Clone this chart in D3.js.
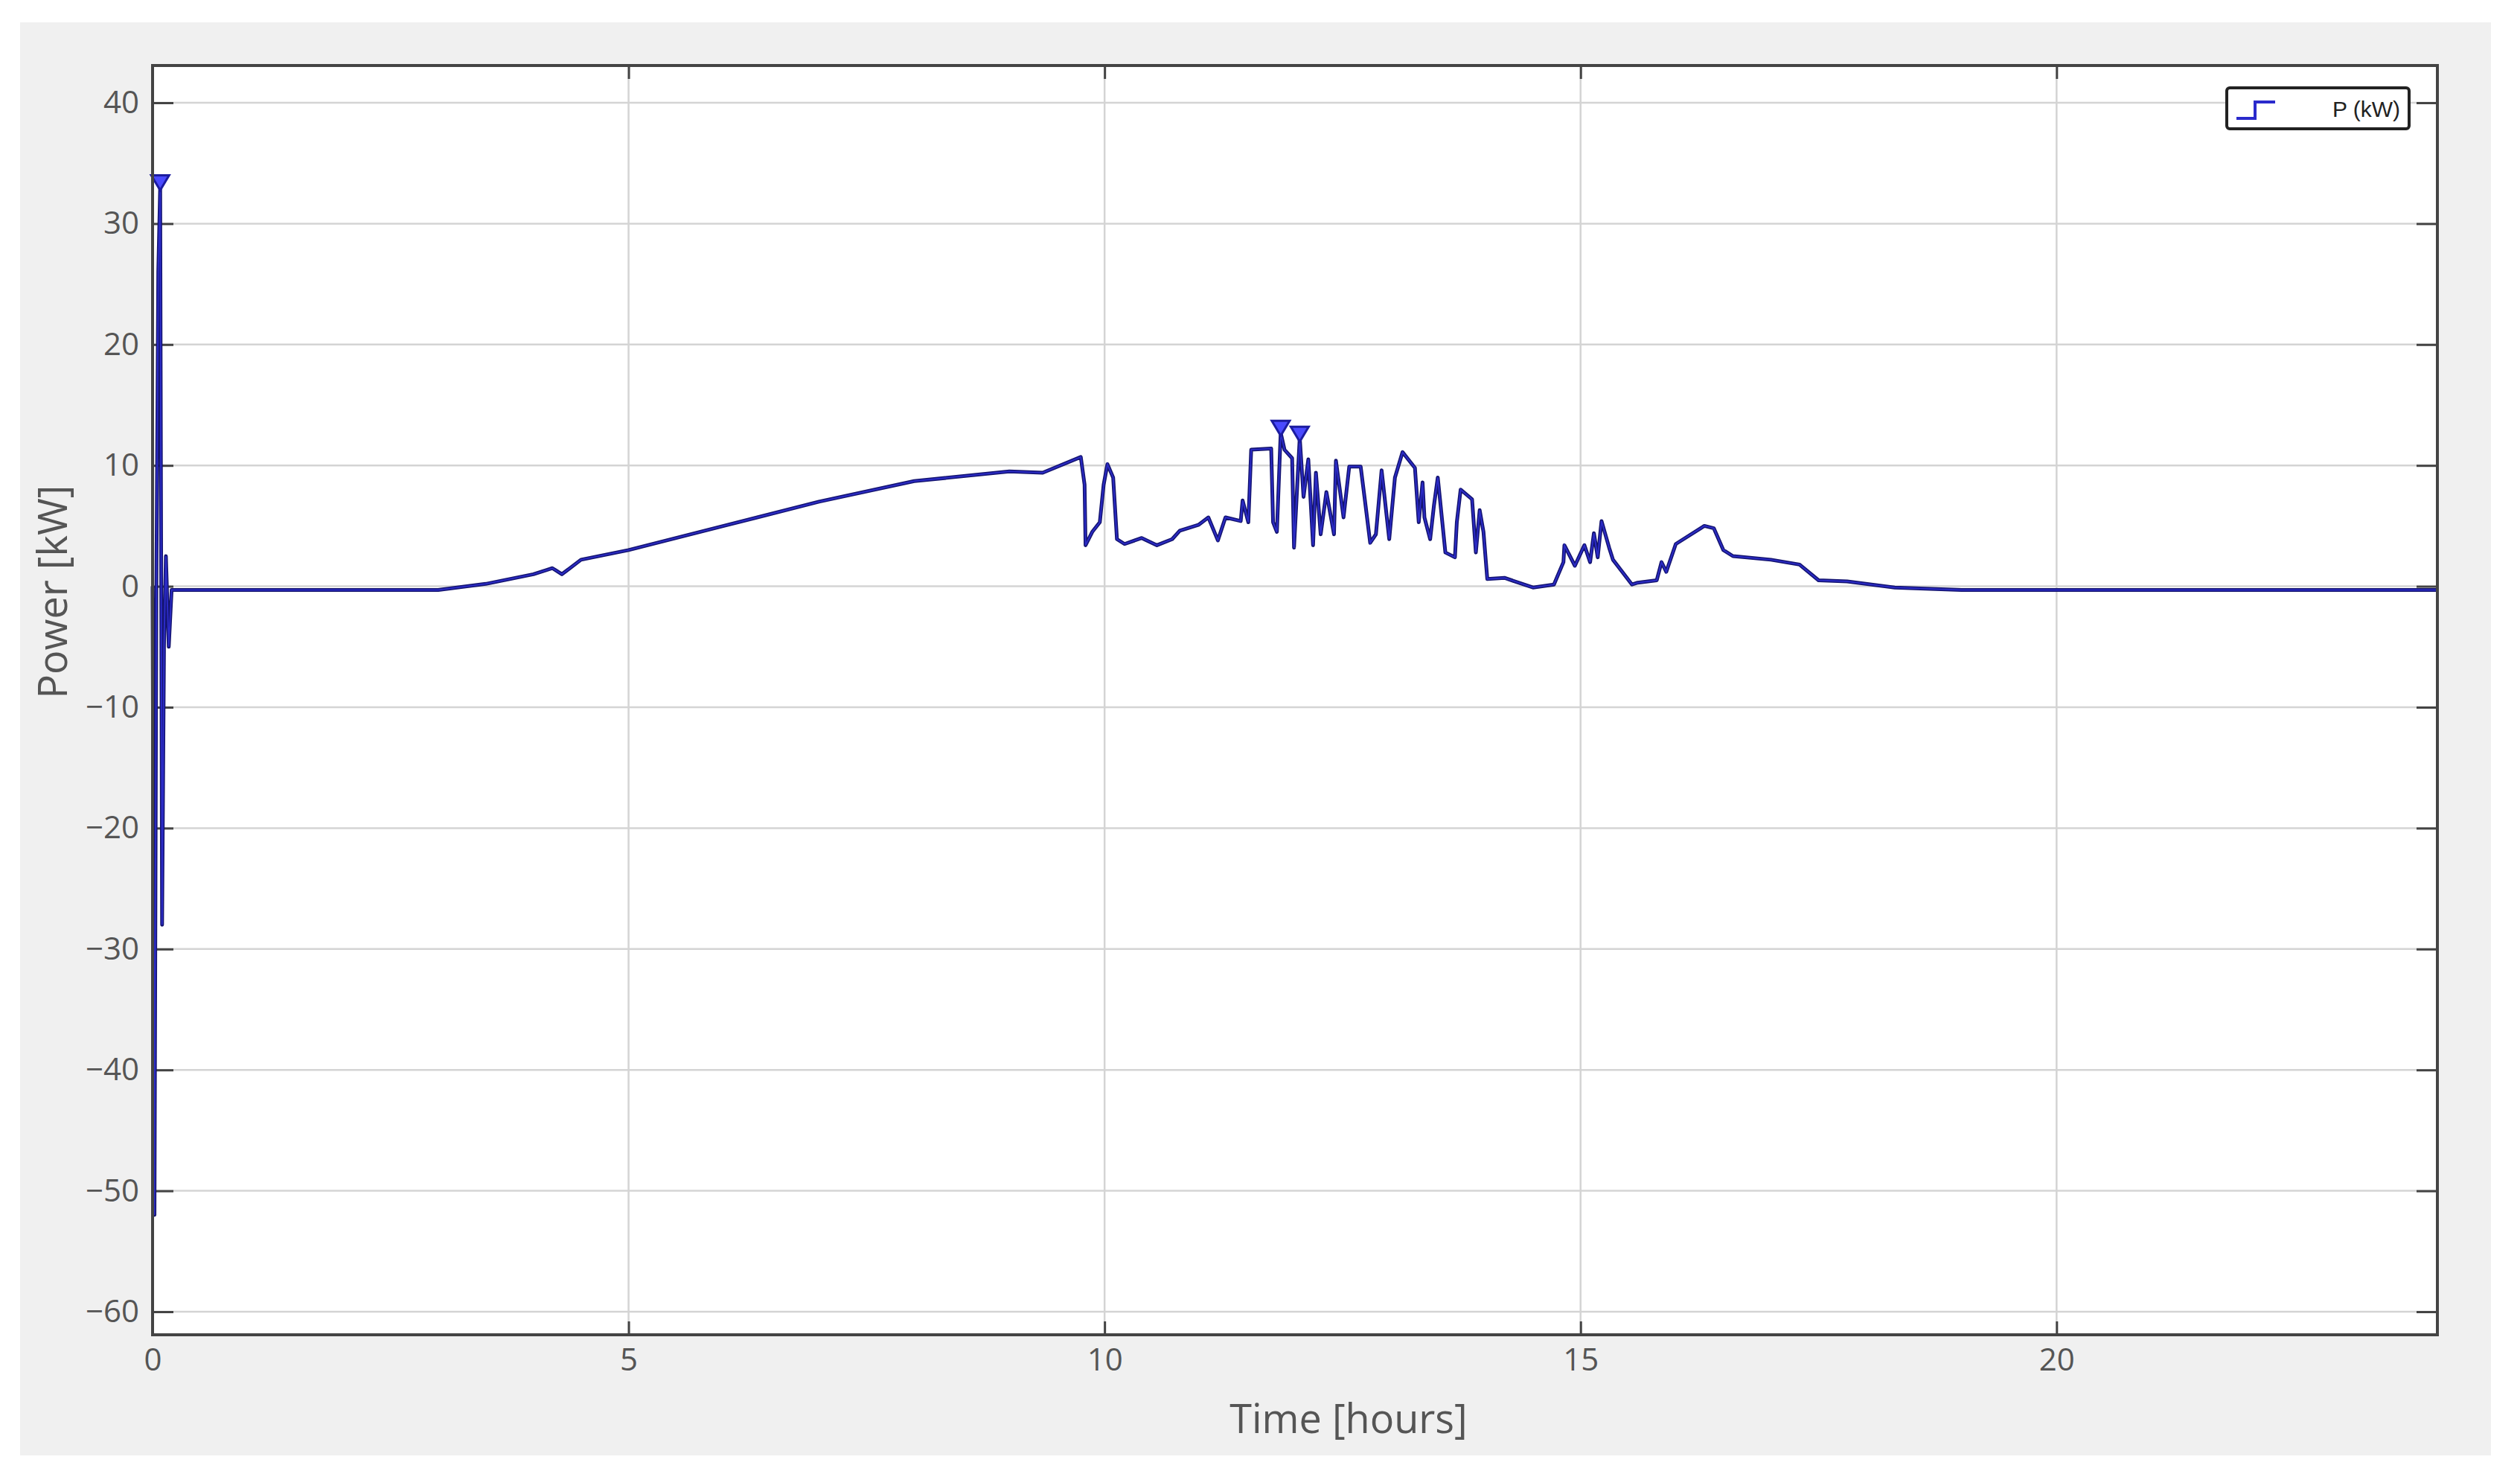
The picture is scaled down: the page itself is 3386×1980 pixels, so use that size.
<!DOCTYPE html><html><head><meta charset="utf-8"><script src="https://cdn.jsdelivr.net/npm/d3@7"></script>
<style>body{margin:0;background:#fff}</style></head><body><svg id="c" width="3386" height="1980"></svg><script>
const xTicks=[0,5,10,15,20];
const yTicks=[40,30,20,10,0,-10,-20,-30,-40,-50,-60];
const timeH=[0,0.02,0.04,0.06,0.08,0.1,0.12,0.14,0.17,0.2,1,2,3,3.5,4,4.2,4.3,4.5,5,6,7,8,9,9.35,9.75,9.79,9.8,9.87,9.95,9.99,10.03,10.09,10.13,10.21,10.39,10.55,10.71,10.79,10.99,11.09,11.19,11.27,11.43,11.45,11.51,11.54,11.75,11.77,11.81,11.85,11.89,11.97,11.99,12.05,12.09,12.14,12.19,12.22,12.27,12.33,12.41,12.43,12.51,12.57,12.69,12.73,12.79,12.85,12.91,12.99,13.05,13.13,13.26,13.30,13.34,13.36,13.42,13.46,13.50,13.58,13.68,13.70,13.74,13.86,13.90,13.94,13.98,14.02,14.20,14.50,14.72,14.82,14.83,14.94,15.04,15.10,15.14,15.18,15.22,15.30,15.34,15.54,15.6,15.8,15.85,15.9,16.0,16.3,16.4,16.5,16.6,17,17.3,17.5,17.8,18.3,19,24];
const powerKW=[0,-52,0,26,33,-28,-5,2.5,-5,-0.3,-0.3,-0.3,-0.3,0.2,1.0,1.5,1.0,2.2,3,5,7,8.7,9.5,9.4,10.7,8.4,3.4,4.5,5.3,8.4,10.1,9,3.9,3.5,4.0,3.4,3.9,4.6,5.1,5.7,3.8,5.7,5.4,7.1,5.3,11.3,11.4,5.3,4.5,12.7,11.3,10.6,3.2,12.3,7.4,10.5,3.4,9.4,4.3,7.8,4.3,10.4,5.7,9.9,9.9,7.4,3.6,4.3,9.6,3.9,9.0,11.1,9.8,5.3,8.6,5.7,3.9,6.7,9.0,2.8,2.4,5.3,8.0,7.2,2.8,6.3,4.5,0.6,0.7,-0.1,0.15,2.0,3.4,1.7,3.4,2,4.4,2.4,5.4,3.2,2.2,0.15,0.3,0.5,2,1.2,3.5,5,4.8,3,2.5,2.2,1.8,0.5,0.4,-0.1,-0.3,-0.3];
const markT=[0.08,11.85,12.05], markP=[33.5,13.2,12.7];

const svg=d3.select("#c");
svg.append("rect").attr("x",27).attr("y",30).attr("width",3320).attr("height",1925).attr("fill","#f0f0f0");
const L=205,R=3275,T=88,B=1793;
const x=d3.scaleLinear().domain([0,24]).range([L,R]);
const y2=d3.scaleLinear().domain([40,-60]).range([138,1762]);
const Y=d3.scaleLinear().domain([y2.invert(B),y2.invert(T)]).range([B,T]);
svg.append("rect").attr("x",L).attr("y",T).attr("width",R-L).attr("height",B-T).attr("fill","#fff");
const g=svg.append("g");
g.selectAll(".gx").data(xTicks).join("line").attr("x1",d=>x(d)).attr("x2",d=>x(d)).attr("y1",T).attr("y2",B).attr("stroke","#d4d4d4").attr("stroke-width",2.5);
g.selectAll(".gy").data(yTicks).join("line").attr("x1",L).attr("x2",R).attr("y1",d=>Y(d)).attr("y2",d=>Y(d)).attr("stroke","#d4d4d4").attr("stroke-width",2.5);
const ax=(gen,tr)=>{const a=svg.append("g").attr("transform",tr).call(gen);a.select(".domain").remove();a.selectAll("line").attr("stroke","#444").attr("stroke-width",3);a.selectAll("text").attr("fill","#555").style("font-family","Open Sans, sans-serif").style("font-size","42px");return a;};
ax(d3.axisBottom(x).tickValues(xTicks).tickSize(-18).tickPadding(18),`translate(0,${B})`);
ax(d3.axisTop(x).tickValues(xTicks).tickSize(-18).tickFormat(""),`translate(0,${T})`);
ax(d3.axisLeft(Y).tickValues(yTicks).tickSize(-28).tickPadding(18).tickFormat(d=>d<0?"\u2212"+(-d):d),`translate(${L},0)`);
ax(d3.axisRight(Y).tickValues(yTicks).tickSize(-28).tickFormat(""),`translate(${R},0)`);
const line=d3.line().x((d,i)=>x(timeH[i])).y(d=>Y(d));
svg.append("path").attr("d",line(powerKW)).attr("fill","none").attr("stroke","#141470").attr("stroke-width",5).attr("stroke-linejoin","round");
svg.append("path").attr("d",line(powerKW)).attr("fill","none").attr("stroke","#3a3aff").attr("stroke-width",2).attr("opacity",0.6);
svg.selectAll(".m").data(markT).join("path").attr("transform",(d,i)=>`translate(${x(d)},${Y(markP[i])})`).attr("d","M-12,-8L12,-8L0,12Z").attr("fill","#4a4aff").attr("stroke","#1c1ca0").attr("stroke-width",3);
svg.append("rect").attr("x",L).attr("y",T).attr("width",R-L).attr("height",B-T).attr("fill","none").attr("stroke","#444").attr("stroke-width",4);
svg.append("rect").attr("x",2992).attr("y",118).attr("width",245).attr("height",55).attr("rx",4).attr("fill","#fff").attr("stroke","#222").attr("stroke-width",4);
svg.append("path").attr("d","M3005,159H3030V137H3057").attr("fill","none").attr("stroke","#2a2acc").attr("stroke-width",4);
svg.append("text").attr("x",3225).attr("y",157).attr("text-anchor","end").style("font-family","Liberation Sans, Arial").style("font-size","30px").attr("fill","#222").text("P (kW)");
svg.append("text").attr("x",1812).attr("y",1925).attr("text-anchor","middle").style("font-family","Open Sans, sans-serif").style("font-size","54px").attr("fill","#555").text("Time [hours]");
svg.append("text").attr("transform","translate(90,795) rotate(-90)").attr("text-anchor","middle").style("font-family","Open Sans, sans-serif").style("font-size","54px").attr("fill","#555").text("Power [kW]");
</script></body></html>
